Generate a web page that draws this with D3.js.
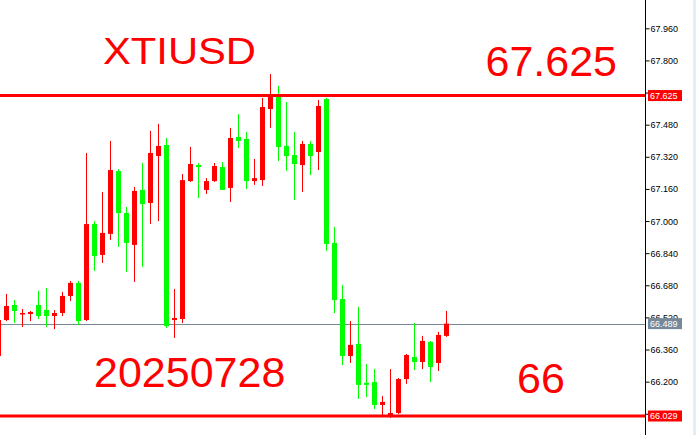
<!DOCTYPE html>
<html>
<head>
<meta charset="utf-8">
<script src="https://cdn.jsdelivr.net/npm/d3@7"></script>
<style>
html,body{margin:0;padding:0;background:#fff;}
svg{display:block;}
</style>
</head>
<body>
<svg id="chart" width="696" height="435"></svg>
<script>
// ---- data ----
const candleIndex = d3.range(-1, 56);
const opens  = [66.328,66.507,66.582,66.537,66.537,66.582,66.557,66.527,66.542,66.627,66.692,66.507,66.985,66.831,66.936,67.249,67.040,66.881,67.155,67.090,67.324,67.379,66.507,66.512,67.199,67.279,67.155,67.199,67.269,67.165,67.419,67.409,67.199,67.204,67.558,67.618,67.374,67.329,67.279,67.384,67.344,67.608,66.891,66.612,66.328,66.388,66.194,66.198,66.084,66.034,66.044,66.213,66.323,66.298,66.398,66.293,66.428];
const highs  = [66.512,66.637,66.607,66.562,66.552,66.652,66.667,66.557,66.647,66.702,66.702,67.339,67.000,67.145,67.399,67.259,67.070,67.170,67.289,67.449,67.484,67.414,66.662,67.234,67.369,67.289,67.214,67.289,67.294,67.464,67.533,67.444,67.309,67.613,67.732,67.673,67.593,67.444,67.399,67.399,67.603,67.613,66.970,66.682,66.502,66.572,66.288,66.263,66.129,66.263,66.218,66.338,66.492,66.428,66.403,66.448,66.552];
const lows   = [66.328,66.502,66.492,66.472,66.502,66.512,66.472,66.462,66.527,66.602,66.482,66.502,66.751,66.791,66.906,66.871,66.746,66.697,66.771,66.985,67.000,66.467,66.418,66.492,67.195,67.115,67.135,67.195,67.155,67.095,67.364,67.160,67.180,67.175,67.464,67.299,67.249,67.105,67.145,67.229,67.254,66.851,66.542,66.283,66.293,66.114,66.124,66.064,66.034,66.019,66.039,66.189,66.258,66.263,66.198,66.253,66.423];
const closes = [66.507,66.577,66.552,66.542,66.547,66.527,66.527,66.542,66.627,66.692,66.502,66.985,66.826,66.941,67.254,67.040,66.891,67.150,67.085,67.339,67.374,66.477,66.517,67.204,67.284,67.269,67.199,67.274,67.155,67.414,67.399,67.199,67.214,67.568,67.623,67.369,67.324,67.284,67.384,67.324,67.573,66.886,66.607,66.328,66.383,66.184,66.184,66.084,66.099,66.044,66.213,66.333,66.298,66.403,66.273,66.433,66.489];
const tickValues = [67.960,67.800,67.640,67.480,67.320,67.160,67.000,66.840,66.680,66.520,66.360,66.200,66.040];
const levelValues = [67.625, 66.029];
const lastPrice = 66.489;
const titleText = "XTIUSD";
const dateText = "20250728";
const levelText = "67.625";
const targetText = "66";

const candles = candleIndex.map((k, i) => ({k, o: opens[i], h: highs[i], l: lows[i], c: closes[i]}));

const svg = d3.select("#chart");
const W = 696, H = 435, axisX = 645;

const x = d3.scaleLinear().domain([0, 55]).range([6.5, 446.5]);
const y = d3.scaleLinear().domain([66.029, 67.960]).range([416, 28.3]);

const RED = "#ff0000", GREEN = "#00ff00", GRAY = "#778899";

// right light strip
svg.append("rect").attr("x", 693).attr("y", 0).attr("width", 3).attr("height", H).attr("fill", "#e3edf8");

// last price line
svg.append("line").attr("x1", 0).attr("x2", axisX).attr("y1", Math.round(y(lastPrice)) + 0.5).attr("y2", Math.round(y(lastPrice)) + 0.5)
  .attr("stroke", GRAY).attr("stroke-width", 1);

// candles
const g = svg.append("g");
const col = d => d.c >= d.o ? RED : GREEN;
g.selectAll("line.wick").data(candles).join("line")
  .attr("class", "wick")
  .attr("x1", d => x(d.k)).attr("x2", d => x(d.k))
  .attr("y1", d => y(d.h)).attr("y2", d => y(d.l))
  .attr("stroke", col).attr("stroke-width", 1);
g.selectAll("rect.body").data(candles).join("rect")
  .attr("class", "body")
  .attr("x", d => x(d.k) - 2.5).attr("width", 5)
  .attr("y", d => y(Math.max(d.o, d.c)))
  .attr("height", d => Math.max(1.5, Math.abs(y(d.o) - y(d.c))))
  .attr("fill", col);

// level lines
svg.selectAll("line.level").data(levelValues).join("line")
  .attr("class", "level")
  .attr("x1", 0).attr("x2", axisX)
  .attr("y1", d => y(d)).attr("y2", d => y(d))
  .attr("stroke", RED).attr("stroke-width", 3);

// right axis
const axis = d3.axisRight(y).tickValues(tickValues).tickSize(4).tickPadding(1).tickFormat(d3.format(".3f"));
const ag = svg.append("g").attr("transform", `translate(${axisX + 0.5},0)`).call(axis);
ag.select(".domain").attr("d", `M0,0V${H}`).attr("stroke", "#000");
ag.selectAll(".tick line").attr("stroke", "#000");
ag.selectAll(".tick text").attr("font-family", "'Liberation Sans', Arial, sans-serif").attr("font-size", 9).attr("fill", "#000").attr("dy", "0.34em");

// price label boxes
const labels = [{v: levelValues[0], c: RED}, {v: lastPrice, c: GRAY}, {v: levelValues[1], c: RED}];
const lg = svg.append("g");
lg.selectAll("rect").data(labels).join("rect")
  .attr("x", 648).attr("width", 34).attr("y", d => y(d.v) - 5.5).attr("height", 11).attr("fill", d => d.c);
lg.selectAll("text").data(labels).join("text")
  .attr("x", 650).attr("y", d => y(d.v) + 3.3)
  .attr("font-family", "'Liberation Sans', Arial, sans-serif").attr("font-size", 9).attr("fill", "#fff")
  .text(d => d3.format(".3f")(d.v));

// annotation texts
const font = "'Liberation Sans', Arial, sans-serif";
svg.append("text").attr("x", 103).attr("y", 64).attr("font-family", font).attr("font-size", 36)
  .attr("textLength", 153).attr("lengthAdjust", "spacingAndGlyphs").attr("fill", RED).text(titleText);
svg.append("text").attr("x", 485.5).attr("y", 76).attr("font-family", font).attr("font-size", 43).attr("fill", RED).text(levelText);
svg.append("text").attr("x", 94).attr("y", 387).attr("font-family", font).attr("font-size", 43).attr("fill", RED).text(dateText);
svg.append("text").attr("x", 517).attr("y", 393).attr("font-family", font).attr("font-size", 43).attr("fill", RED).text(targetText);
</script>
</body>
</html>
